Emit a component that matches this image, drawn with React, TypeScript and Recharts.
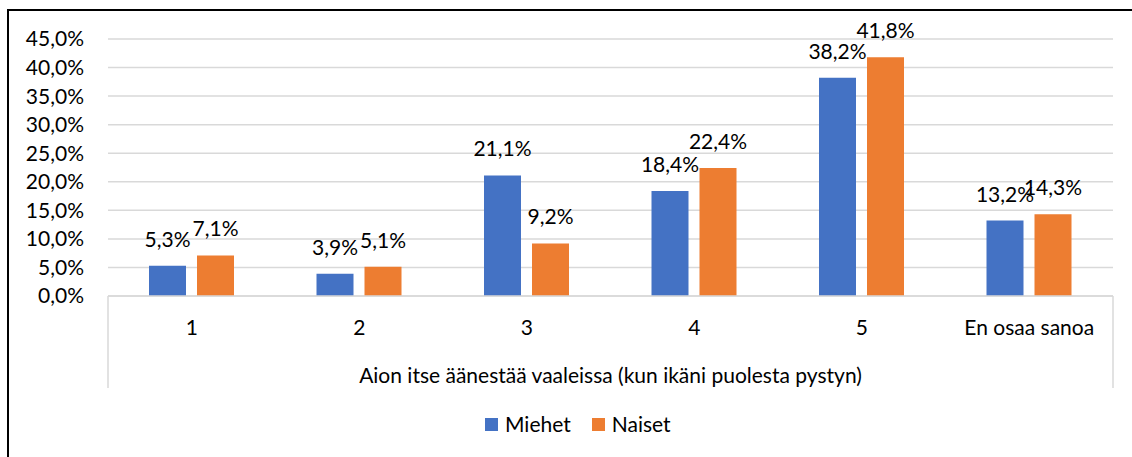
import { BarChart, Bar, XAxis, YAxis, CartesianGrid, LabelList, usePlotArea } from 'recharts'

const categories = ['1', '2', '3', '4', '5', 'En osaa sanoa']
const miehet = [5.3, 3.9, 21.1, 18.4, 38.2, 13.2]
const naiset = [7.1, 5.1, 9.2, 22.4, 41.8, 14.3]
const yTicks = [0, 5, 10, 15, 20, 25, 30, 35, 40, 45]
const seriesNames = ['Miehet', 'Naiset']
const groupTitle = 'Aion itse äänestää vaaleissa (kun ikäni puolesta pystyn)'

const FONT = 'Lato, "Noto Sans", sans-serif'
const FS = 21
const BLUE = '#4472C4'
const ORANGE = '#ED7D31'
const GRID = '#d9d9d9'

const data = categories.map((c, i) => ({ name: c, Miehet: miehet[i], Naiset: naiset[i] }))

const pct = (v: any) => `${Number(v).toFixed(1).replace('.', ',')}%`

// second level of the category axis: side lines + group title
function AxisGroup() {
  const area = usePlotArea()
  if (!area) return null
  const bottom = area.y + area.height
  return (
    <g>
      <line x1={area.x} x2={area.x} y1={bottom} y2={bottom + 92} stroke={GRID} strokeWidth={1.5} />
      <line x1={area.x + area.width} x2={area.x + area.width} y1={bottom} y2={bottom + 92} stroke={GRID} strokeWidth={1.5} />
      <text
        x={area.x + area.width / 2}
        y={bottom + 87}
        textAnchor="middle"
        fontFamily={FONT}
        fontSize={FS}
        fill="#000"
      >
        {groupTitle}
      </text>
    </g>
  )
}

export default function App() {
  return (
    <div style={{ position: 'absolute', left: 0, top: 0, width: 1132, height: 457, background: '#fff' }}>
      <div
        style={{
          position: 'absolute', left: 7, top: 9, width: 1125, height: 448,
          borderLeft: '2px solid #000', borderTop: '2px solid #000',
        }}
      />
      <div style={{ position: 'absolute', left: 0, top: 0 }}>
        <BarChart
          width={1132}
          height={457}
          data={data}
          margin={{ top: 39, right: 19, bottom: 69, left: 8 }}
          barSize={37}
          barGap={11}
        >
          <CartesianGrid vertical={false} stroke={GRID} strokeWidth={1.5} />
          <XAxis
            dataKey="name"
            height={92}
            axisLine={{ stroke: GRID, strokeWidth: 1.5 }}
            tickLine={false}
            tickSize={0}
            tickMargin={24}
            interval={0}
            tick={{ fill: '#000', fontSize: FS, fontFamily: FONT }}
          />
          <YAxis
            width={100}
            domain={[0, 45]}
            ticks={yTicks}
            interval={0}
            axisLine={false}
            tickLine={false}
            tickSize={0}
            tickMargin={24}
            tickFormatter={pct}
            tick={{ fill: '#000', fontSize: FS, fontFamily: FONT }}
          />
          <Bar dataKey="Miehet" fill={BLUE} isAnimationActive={false}>
            <LabelList dataKey="Miehet" position="top" offset={19} formatter={pct} fill="#000" fontSize={FS} fontFamily={FONT} />
          </Bar>
          <Bar dataKey="Naiset" fill={ORANGE} isAnimationActive={false}>
            <LabelList dataKey="Naiset" position="top" offset={19} formatter={pct} fill="#000" fontSize={FS} fontFamily={FONT} />
          </Bar>
          <AxisGroup />
        </BarChart>
      </div>
      {/* legend */}
      <div
        style={{
          position: 'absolute', left: 485, top: 411, display: 'flex', alignItems: 'center',
          fontFamily: FONT, fontSize: FS, color: '#000', lineHeight: '26px',
        }}
      >
        {seriesNames.map((n, i) => (
          <span key={n} style={{ display: 'flex', alignItems: 'center', marginRight: 21 }}>
            <span style={{ width: 13, height: 13, background: i === 0 ? BLUE : ORANGE, display: 'inline-block', marginRight: 7 }} />
            {n}
          </span>
        ))}
      </div>
    </div>
  )
}
